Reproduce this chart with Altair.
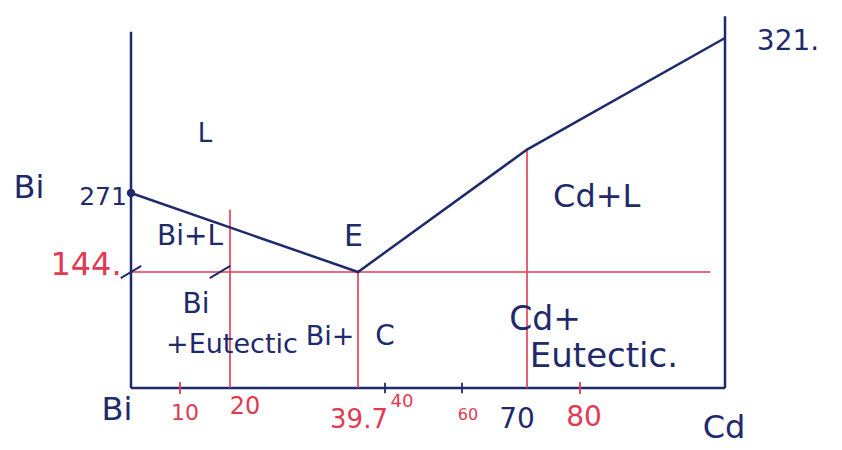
import altair as alt
import pandas as pd

NAVY = "#1f2a6c"
RED = "#e23a52"
FONT = "DejaVu Sans"

# ---- Bi–Cd phase diagram values (composition wt% Cd, temperature °C) ----
# Liquidus: Bi melting point -> eutectic E -> reading on the 70 % line -> Cd melting point
liq_x = [0, 39.7, 70, 100]
liq_t = [271, 144, 285, 321]

# Eutectic isotherm
iso_t = 144
iso_x = [0, 98]

# Red composition guides and how high each is drawn
guide_x = [20, 39.7, 70]
guide_top = [244, 144, 285]

# Hand-drawn frame: left (pure Bi) and right (pure Cd) temperature axes
frame_x = [0, 100]
frame_top = [323, 328]

# Small ticks on the composition axis
tick_dark = [40, 60]
tick_red = [10, 80]

# Composition axis labels
axis_text = ["Bi", "10", "20", "39.7", "40", "60", "70", "80", "Cd"]
axis_x = [0, 10, 20, 39.7, 40, 60, 70, 80, 100]
axis_color = [NAVY, RED, RED, RED, RED, RED, NAVY, RED, NAVY]

# Phase-field labels
region_text = ["L", "Bi+L", "E", "Cd+L", "Bi", "+Eutectic", "Bi+", "C", "Cd+", "Eutectic."]
region_x = [15, 12, 39, 82.3, 13.2, 20.3, 35.4, 40, 73.4, 83.3]
region_t = [290, 200, 200, 265, 103, 53, 63, 63, 84, 38]

# ---- scales: piecewise so the uneven hand-ruled spacing is reproduced ----
xs = alt.Scale(domain=[0, 10, 20, 39.7, 40, 60, 70, 80, 100],
               range=[131, 180, 230, 358, 385, 462, 527, 580, 725],
               zero=False, nice=False)
ys = alt.Scale(domain=[0, 144, 271, 321, 330],
               range=[388, 272, 193, 38, 10],
               zero=False, nice=False)


def X(field):
    return alt.X(field, type="quantitative", scale=xs, axis=None)


def Y(field):
    return alt.Y(field, type="quantitative", scale=ys, axis=None)


# frame
frame = pd.DataFrame({"x": frame_x, "top": frame_top, "zero": [0, 0]})
verticals = alt.Chart(frame).mark_rule(color=NAVY, strokeWidth=2.5).encode(
    x=X("x"), y=Y("zero"), y2="top")
base = alt.Chart(pd.DataFrame({"x0": [0], "x1": [100], "t": [0]})).mark_rule(
    color=NAVY, strokeWidth=2.5).encode(x=X("x0"), x2="x1", y=Y("t"))

# liquidus
liq = pd.DataFrame({"x": liq_x, "t": liq_t, "i": range(len(liq_x))})
liquidus = alt.Chart(liq).mark_line(color=NAVY, strokeWidth=2.5).encode(
    x=X("x"), y=Y("t"), order="i:O")
bi_dot = alt.Chart(liq.iloc[[0]]).mark_point(
    filled=True, color=NAVY, size=70, opacity=1).encode(x=X("x"), y=Y("t"))

# eutectic isotherm and guides
iso = alt.Chart(pd.DataFrame({"x0": [iso_x[0]], "x1": [iso_x[1]], "t": [iso_t]})).mark_rule(
    color=RED, strokeWidth=1.6).encode(x=X("x0"), x2="x1", y=Y("t"))
guides = alt.Chart(pd.DataFrame({"x": guide_x, "top": guide_top, "zero": 0})).mark_rule(
    color=RED, strokeWidth=1.6).encode(x=X("x"), y=Y("zero"), y2="top")

# pen strokes crossing the isotherm
slashes = alt.Chart(pd.DataFrame({"x": [0, 18], "t": [iso_t, iso_t]})).mark_point(
    shape="M-1,0.6L1,-0.6", size=420, color=NAVY, strokeWidth=2, opacity=1).encode(
    x=X("x"), y=Y("t"))

# axis ticks
ticks_d = alt.Chart(pd.DataFrame({"x": tick_dark, "t": 0})).mark_point(
    shape="M0,-1L0,1", size=110, color=NAVY, strokeWidth=1.8, opacity=1).encode(
    x=X("x"), y=Y("t"))
ticks_r = alt.Chart(pd.DataFrame({"x": tick_red, "t": 0})).mark_point(
    shape="M0,-1L0,1", size=140, color=RED, strokeWidth=1.8, opacity=1).encode(
    x=X("x"), y=Y("t"))


def text_layer(text, x, t, color, size, dx=0, dy=0):
    df = pd.DataFrame({"x": [x], "t": [t], "label": [text]})
    return alt.Chart(df).mark_text(
        color=color, font=FONT, fontSize=size, dx=dx, dy=dy,
        align="center", baseline="middle").encode(
        x=X("x"), y=Y("t"), text="label:N")


layers = [verticals, base, iso, guides, liquidus, bi_dot, slashes, ticks_d, ticks_r]

# composition axis labels, each nudged off the axis line: (dx, dy, font size)
axis_nudge = {"Bi": (-14, 22, 32), "10": (5, 25, 22), "20": (15, 19, 24),
              "39.7": (1, 32, 26), "40": (17, 14, 18), "60": (6, 27, 16),
              "70": (-10, 32, 28), "80": (4, 30, 28), "Cd": (-1, 40, 32)}
for txt, xv, col in zip(axis_text, axis_x, axis_color):
    dx, dy, fs = axis_nudge[txt]
    layers.append(text_layer(txt, xv, 0, col, fs, dx, dy))

# temperature labels
layers.append(text_layer("Bi", 0, liq_t[0], NAVY, 32, -102, -5))
layers.append(text_layer("271", 0, liq_t[0], NAVY, 25, -28, 4))
layers.append(text_layer("144.", 0, iso_t, RED, 32, -45, -7))
layers.append(text_layer("321.", 100, liq_t[-1], NAVY, 28, 63, 4))

# phase fields
region_size = {"L": 26, "Bi+L": 28, "E": 30, "Cd+L": 32, "Bi": 28, "+Eutectic": 27,
               "Bi+": 27, "C": 28, "Cd+": 33, "Eutectic.": 34}
for txt, xv, tv in zip(region_text, region_x, region_t):
    layers.append(text_layer(txt, xv, tv, NAVY, region_size[txt]))

chart = alt.layer(*layers).properties(
    width=842, height=450, padding=0, autosize="none", background="white"
).configure_view(stroke=None)

chart.save("out.html", embed_options={"renderer": "svg", "actions": False})
